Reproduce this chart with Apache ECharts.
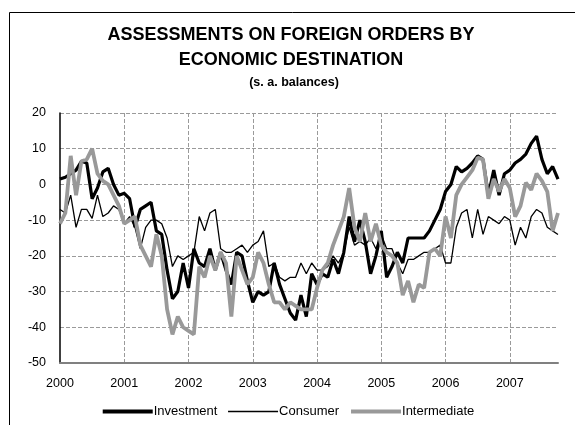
<!DOCTYPE html>
<html>
<head>
<meta charset="utf-8">
<script src="https://cdn.jsdelivr.net/npm/echarts@6/dist/echarts.min.js"></script>
<style>
  html, body { margin: 0; padding: 0; background: #fff; }
  #chart { width: 575px; height: 425px; }
</style>
</head>
<body>
<div id="chart"></div>
<script>
// monthly balances, Jan 2000 .. Oct 2007
var years = ['2000', '2001', '2002', '2003', '2004', '2005', '2006', '2007'];
var monthsInLastYear = 10;

var investment = [
    1.5, 2, 3, 4, 6.5, 6, -4, -1, 3.5, 4.5, 0, -3,
    -2.5, -4, -12, -7, -6, -5, -13, -14, -24, -32, -30, -22,
    -29, -18, -22, -23, -18, -24, -19, -24, -28, -19, -20, -27,
    -33, -30, -31, -30, -22, -28, -32, -36, -38, -31, -37, -25,
    -28, -25, -26, -21, -25, -19, -9, -16, -10, -16, -25, -20,
    -13, -26, -23, -19, -22, -15, -15, -15, -15, -13, -10, -7,
    -2, 0, 5, 3.5, 4.5, 6, 8, 7, -3, 4, -3, 3,
    4, 6, 7, 8.5, 11.5, 13.5, 7, 3, 5, 1.5
];
var consumer = [
    -7, -8, -3, -12, -7, -7, -9.5, -3, -9, -8, -6, -7,
    -11, -9, -12, -18, -12, -10, -10, -11, -15, -23, -20, -21,
    -20, -19, -9, -13, -8, -7, -18, -19, -19, -18, -17, -19,
    -17, -16, -13, -23, -22, -26, -27, -26, -26, -22, -25, -22,
    -24, -24, -23, -20, -22, -19, -12, -17, -16, -17, -15, -18,
    -14, -18, -18, -22, -25, -21, -21, -20, -19, -19, -18, -17,
    -22, -22, -12, -8, -7, -15, -7, -14, -9, -10, -11, -9,
    -10, -17, -12, -15, -9, -7, -8, -12, -13, -14
];
var intermediate = [
    -11, -8, 8, -3, 6.5, 7, 10, 3, 1, 0, -3, -6,
    -11, -10, -9, -17, -20, -23, -14, -20, -35, -42, -37, -40,
    -41, -42, -23, -26, -20, -24, -19, -22, -37, -20, -24, -28,
    -26, -19, -22, -28, -33, -33, -35, -33, -34, -35, -35, -35,
    -29, -24, -22, -17, -13, -9, -1, -12, -16, -8, -16, -11,
    -17, -19, -20, -22, -31, -27, -33, -28, -29, -19, -18, -20,
    -9, -15, -3, 0, 2, 4, 7.5, 7, -4, 1.5, -2, 1.5,
    -1, -9, -6, 0.5, -1.5, 3, 1, -2, -13, -8
];
var yTicks = { min: -50, max: 20, step: 10 };

var months = [];
years.forEach(function (y, i) {
    var n = i === years.length - 1 ? monthsInLastYear : 12;
    for (var m = 1; m <= n; m++) {
        months.push(y + '-' + (m < 10 ? '0' + m : m));
    }
});

var font = '"Liberation Sans", Arial, sans-serif';

var option = {
    animation: false,
    title: [{
        text: 'ASSESSMENTS ON FOREIGN ORDERS BY\nECONOMIC DESTINATION',
        left: 286,
        top: 18,
        textAlign: 'center',
        textStyle: { fontFamily: font, fontSize: 18, fontWeight: 'bold', color: '#000', lineHeight: 25 }
    }, {
        text: '(s. a. balances)',
        left: 289,
        top: 71,
        textAlign: 'center',
        textStyle: { fontFamily: font, fontSize: 12.5, fontWeight: 'bold', color: '#000' }
    }],
    // outer chart frame (runs off the right/bottom edge)
    graphic: [{
        type: 'polyline',
        z: 100,
        shape: { points: [[9.5, 430], [9.5, 12.5], [580, 12.5]] },
        style: { fill: null, stroke: '#000', lineWidth: 1 },
        silent: true
    }],
    legend: {
        bottom: 2,
        left: 'center',
        itemWidth: 50,
        itemHeight: 10,
        itemGap: 10,
        itemStyle: { opacity: 0 },
        textStyle: { fontFamily: font, fontSize: 13, color: '#000', padding: [0, 0, 0, -4] },
        data: [
            { name: 'Investment', lineStyle: { color: '#000', width: 4 } },
            { name: 'Consumer', lineStyle: { color: '#000', width: 1.5 } },
            { name: 'Intermediate', lineStyle: { color: '#999', width: 4 } }
        ]
    },
    grid: { left: 60, right: 17, top: 113, bottom: 62, containLabel: false },
    xAxis: {
        type: 'category',
        data: months,
        boundaryGap: false,
        axisLine: { onZero: false, lineStyle: { color: '#808080', width: 2 } },
        axisTick: { show: false },
        axisLabel: {
            interval: function (i) { return i % 12 === 0; },
            formatter: function (v) { return v.slice(0, 4); },
            fontFamily: font, fontSize: 12.5, color: '#000', margin: 14
        },
        splitLine: {
            show: true,
            interval: function (i) { return i % 12 === 0 && i > 0; },
            lineStyle: { color: '#9a9a9a', type: 'dashed', width: 1, opacity: 1 }
        }
    },
    yAxis: {
        type: 'value',
        min: yTicks.min,
        max: yTicks.max,
        interval: yTicks.step,
        axisLine: { show: true, lineStyle: { color: '#000', width: 1.5 } },
        axisTick: { show: false },
        axisLabel: { fontFamily: font, fontSize: 12.5, color: '#000', margin: 14 },
        splitLine: { show: true, lineStyle: { color: '#9a9a9a', type: 'dashed', width: 1, opacity: 1 } }
    },
    series: [{
        name: 'Investment',
        type: 'line',
        data: investment,
        symbol: 'none',
        color: '#000',
        lineStyle: { color: '#000', width: 3.2 }
    }, {
        name: 'Consumer',
        type: 'line',
        data: consumer,
        symbol: 'none',
        color: '#000',
        lineStyle: { color: '#000', width: 1.3 }
    }, {
        name: 'Intermediate',
        type: 'line',
        data: intermediate,
        symbol: 'none',
        color: '#999',
        lineStyle: { color: '#999', width: 3.8 }
    }]
};

var myChart = echarts.init(document.getElementById('chart'));
myChart.setOption(option);
</script>
</body>
</html>
